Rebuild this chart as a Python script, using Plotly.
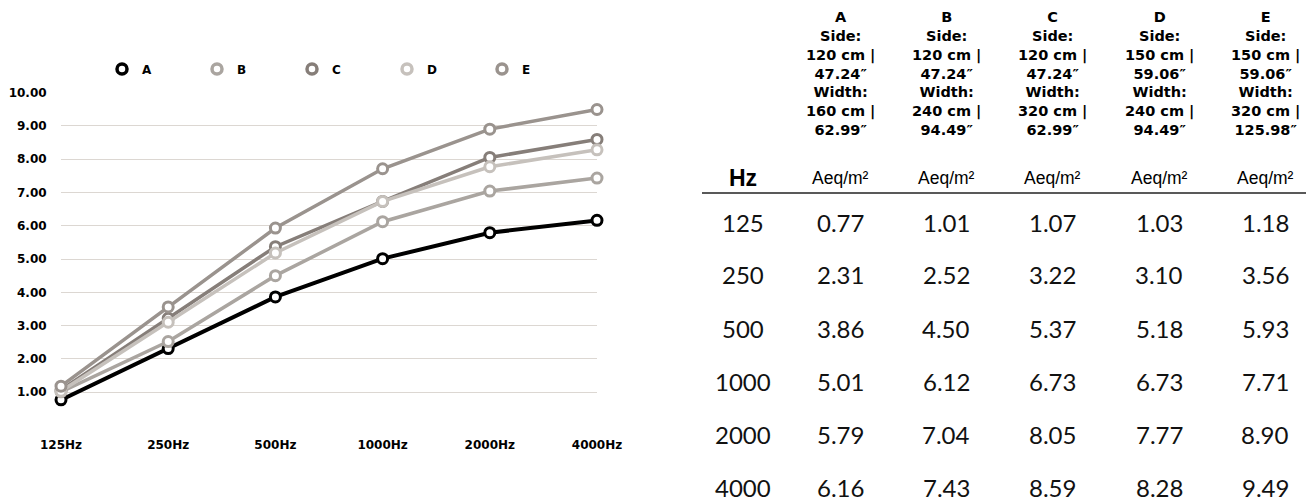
import plotly.graph_objects as go

# ---------------- data ----------------
freq_labels = ["125Hz", "250Hz", "500Hz", "1000Hz", "2000Hz", "4000Hz"]
table_freqs = ["125", "250", "500", "1000", "2000", "4000"]
series_names = ["A", "B", "C", "D", "E"]
vals_A = [0.77, 2.31, 3.86, 5.01, 5.79, 6.16]
vals_B = [1.01, 2.52, 4.50, 6.12, 7.04, 7.43]
vals_C = [1.07, 3.22, 5.37, 6.73, 8.05, 8.59]
vals_D = [1.03, 3.10, 5.18, 6.73, 7.77, 8.28]
vals_E = [1.18, 3.56, 5.93, 7.71, 8.90, 9.49]
side_text = ["120 cm |<br>47.24″", "120 cm |<br>47.24″", "120 cm |<br>47.24″",
             "150 cm |<br>59.06″", "150 cm |<br>59.06″"]
width_text = ["160 cm |<br>62.99″", "240 cm |<br>94.49″", "320 cm |<br>62.99″",
              "240 cm |<br>94.49″", "320 cm |<br>125.98″"]
y_tickvals = [0, 1, 2, 3, 4, 5, 6, 7, 8, 9, 10]
y_ticktext = ["", "1.00", "2.00", "3.00", "4.00", "5.00", "6.00", "7.00", "8.00", "9.00", "10.00"]
unit_label = "Aeq/m²"
hz_label = "Hz"

# ---------------- styles / layout ----------------
PAGE_W, PAGE_H = 1314, 502
BODY = 8                      # default page body margin (px)
W, H = PAGE_W - BODY, PAGE_H - BODY


def px(x):                    # screen x (px) -> paper fraction
    return (x - BODY) / W


def py(y):                    # screen y (px, from top) -> paper fraction
    return (H - (y - BODY)) / H


colors = ["#000000", "#aaa5a0", "#867e79", "#c6c1bc", "#9a938e"]
line_widths = [4, 3.5, 3.5, 3.5, 3.5]
series_vals = [vals_A, vals_B, vals_C, vals_D, vals_E]
bold_font = dict(family="DejaVu Sans", size=12, color="#000", weight="bold")

fig = go.Figure()

for name, v, c, lw in zip(series_names, series_vals, colors, line_widths):
    fig.add_trace(go.Scatter(
        x=freq_labels, y=v, mode="lines+markers", name=name, showlegend=False,
        line=dict(color=c, width=lw),
        marker=dict(symbol="circle", size=10, color="white", line=dict(color=c, width=3)),
        cliponaxis=False, hoverinfo="x+y+name",
    ))
# legend-only entries (markers only)
for name, c in zip(series_names, colors):
    fig.add_trace(go.Scatter(
        x=[None], y=[None], mode="markers", name=name, showlegend=True,
        marker=dict(symbol="circle", size=10, color="white", line=dict(color=c, width=3.5)),
    ))

plot_l, plot_r = 61, 597
plot_top, plot_bot = 92.5, 425.5

fig.update_layout(
    width=W, height=H, autosize=False,
    margin=dict(l=0, r=0, t=0, b=0, autoexpand=False),
    paper_bgcolor="white", plot_bgcolor="white",
    xaxis=dict(
        domain=[px(plot_l), px(plot_r)], type="category", automargin=False,
        categoryorder="array", categoryarray=freq_labels,
        range=[0, len(freq_labels) - 1], showgrid=False, zeroline=False, showline=False,
        ticks="outside", ticklen=8, tickcolor="rgba(0,0,0,0)",
        tickfont=bold_font, fixedrange=True,
    ),
    yaxis=dict(
        domain=[py(plot_bot), py(plot_top)], automargin=False,
        range=[0, 10], tickmode="array", tickvals=y_tickvals, ticktext=y_ticktext,
        showgrid=True, gridcolor="#dcd7d2", gridwidth=1, zeroline=False, showline=False,
        ticks="outside", ticklen=11, tickcolor="rgba(0,0,0,0)",
        tickfont=bold_font, fixedrange=True,
    ),
    legend=dict(
        orientation="h", x=px(102), y=py(69), xanchor="left", yanchor="middle",
        font=bold_font, itemwidth=30, entrywidth=50, entrywidthmode="pixels",
        bgcolor="rgba(0,0,0,0)", traceorder="normal",
    ),
)

# ---------------- table ----------------
col_x = [743, 840, 946, 1052, 1159, 1265]
row_y = [222, 275, 328, 381, 434, 487]
header_y = 73.5
unit_y = 178
rule_y = 193

annotations = []
for i, name in enumerate(series_names):
    txt = f"{name}<br>Side:<br>{side_text[i]}<br>Width:<br>{width_text[i]}"
    annotations.append(dict(
        x=px(col_x[i + 1]), y=py(header_y), xref="paper", yref="paper",
        text=txt, showarrow=False, xanchor="center", yanchor="middle", align="center",
        font=dict(family="DejaVu Sans", size=14.5, color="#000", weight="bold"),
    ))
    annotations.append(dict(
        x=px(col_x[i + 1]), y=py(unit_y), xref="paper", yref="paper",
        text=unit_label, showarrow=False, xanchor="center", yanchor="middle",
        font=dict(family="Liberation Sans", size=17.5, color="#000"),
    ))
annotations.append(dict(
    x=px(col_x[0]), y=py(unit_y), xref="paper", yref="paper",
    text=hz_label, showarrow=False, xanchor="center", yanchor="middle",
    font=dict(family="Liberation Sans", size=23, color="#000", weight="bold"),
))
for r, f in enumerate(table_freqs):
    annotations.append(dict(
        x=px(col_x[0]), y=py(row_y[r]), xref="paper", yref="paper",
        text=f, showarrow=False, xanchor="center", yanchor="middle",
        font=dict(family="Lato", size=24, color="#111"),
    ))
    for i, v in enumerate(series_vals):
        annotations.append(dict(
            x=px(col_x[i + 1]), y=py(row_y[r]), xref="paper", yref="paper",
            text=f"{v[r]:.2f}", showarrow=False, xanchor="center", yanchor="middle",
            font=dict(family="Lato", size=24, color="#111"),
        ))

fig.update_layout(
    annotations=annotations,
    shapes=[dict(type="line", xref="paper", yref="paper",
                 x0=px(702), x1=1.0, y0=py(rule_y), y1=py(rule_y),
                 line=dict(color="#222", width=1.5))],
)

fig.write_html("out.html")
